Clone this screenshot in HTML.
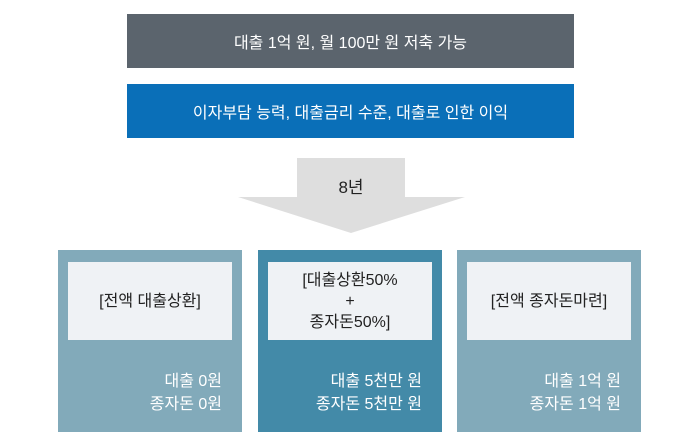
<!DOCTYPE html>
<html><head><meta charset="utf-8"><style>
body{margin:0;width:700px;height:444px;background:#fff;position:relative;overflow:hidden;font-family:"Liberation Sans","Noto Sans CJK KR",sans-serif}
.bar{position:absolute;left:127px;width:447px;height:54px;color:#fff;font-size:16px;display:flex;align-items:center;justify-content:center}
.box{position:absolute;top:250px;width:184px;height:182px}
.in{position:absolute;left:10px;top:12px;width:164px;height:78px;background:#eff2f5;color:#222;font-size:16px;display:flex;align-items:center;justify-content:center;text-align:center;line-height:21px}
.b{position:absolute;right:20px;top:120px;color:#fff;font-size:16px;text-align:right;line-height:23px}
</style></head><body>
<div class="bar" style="top:14px;background:#5b646d">대출 1억 원, 월 100만 원 저축 가능</div>
<div class="bar" style="top:84px;background:#0a6fb8">이자부담 능력, 대출금리 수준, 대출로 인한 이익</div>
<svg style="position:absolute;left:0;top:0" width="700" height="444">
<polygon points="297,158 405,158 405,197 465,197 351,233 238,197 297,197" fill="#dedede"/>
<text x="351" y="193" text-anchor="middle" font-size="17" fill="#222" font-family="Liberation Sans,Noto Sans CJK KR,sans-serif">8년</text>
</svg>
<div class="box" style="left:58px;background:#82aaba"><div class="in">[전액 대출상환]</div><div class="b">대출 0원<br>종자돈 0원</div></div>
<div class="box" style="left:258px;background:#438aa8"><div class="in">[대출상환50%<br>+<br>종자돈50%]</div><div class="b">대출 5천만 원<br>종자돈 5천만 원</div></div>
<div class="box" style="left:457px;background:#82aaba"><div class="in">[전액 종자돈마련]</div><div class="b">대출 1억 원<br>종자돈 1억 원</div></div>
</body></html>
